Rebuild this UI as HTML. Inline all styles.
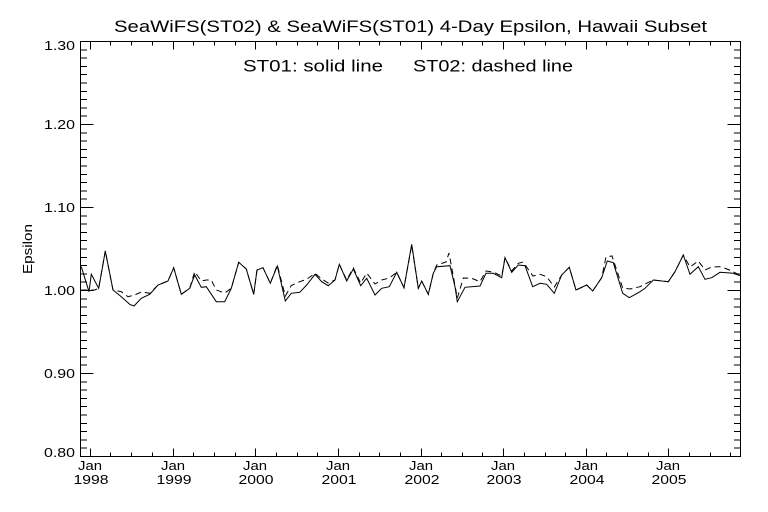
<!DOCTYPE html>
<html>
<head>
<meta charset="utf-8">
<style>
html,body{margin:0;padding:0;background:#fff;}
svg{display:block;}
text{font-family:"Liberation Sans",sans-serif;fill:#000;}
</style>
</head>
<body>
<svg width="768" height="512" viewBox="0 0 768 512" xmlns="http://www.w3.org/2000/svg">
<rect x="0" y="0" width="768" height="512" fill="#fff"/>

<text x="114" y="32" font-size="16.5" textLength="593" lengthAdjust="spacingAndGlyphs">SeaWiFS(ST02) &amp; SeaWiFS(ST01) 4-Day Epsilon, Hawaii Subset</text>

<text x="243" y="71.5" font-size="16.5" textLength="140" lengthAdjust="spacingAndGlyphs">ST01: solid line</text>
<text x="413" y="71.5" font-size="16.5" textLength="160" lengthAdjust="spacingAndGlyphs">ST02: dashed line</text>

<g stroke="#000" stroke-width="1" fill="none" shape-rendering="crispEdges">
<rect x="80.5" y="41.5" width="660" height="415"/>
<path d="M90.5 456.5V448.5 M90.5 41.5V49.5 M110.5 456.5V452.5 M110.5 41.5V45.5 M131.5 456.5V452.5 M131.5 41.5V45.5 M152.5 456.5V452.5 M152.5 41.5V45.5 M173.5 456.5V448.5 M173.5 41.5V49.5 M193.5 456.5V452.5 M193.5 41.5V45.5 M214.5 456.5V452.5 M214.5 41.5V45.5 M235.5 456.5V452.5 M235.5 41.5V45.5 M255.5 456.5V448.5 M255.5 41.5V49.5 M276.5 456.5V452.5 M276.5 41.5V45.5 M297.5 456.5V452.5 M297.5 41.5V45.5 M317.5 456.5V452.5 M317.5 41.5V45.5 M338.5 456.5V448.5 M338.5 41.5V49.5 M359.5 456.5V452.5 M359.5 41.5V45.5 M379.5 456.5V452.5 M379.5 41.5V45.5 M400.5 456.5V452.5 M400.5 41.5V45.5 M421.5 456.5V448.5 M421.5 41.5V49.5 M441.5 456.5V452.5 M441.5 41.5V45.5 M462.5 456.5V452.5 M462.5 41.5V45.5 M482.5 456.5V452.5 M482.5 41.5V45.5 M503.5 456.5V448.5 M503.5 41.5V49.5 M524.5 456.5V452.5 M524.5 41.5V45.5 M545.5 456.5V452.5 M545.5 41.5V45.5 M565.5 456.5V452.5 M565.5 41.5V45.5 M586.5 456.5V448.5 M586.5 41.5V49.5 M606.5 456.5V452.5 M606.5 41.5V45.5 M627.5 456.5V452.5 M627.5 41.5V45.5 M648.5 456.5V452.5 M648.5 41.5V45.5 M668.5 456.5V448.5 M668.5 41.5V49.5 M689.5 456.5V452.5 M689.5 41.5V45.5 M710.5 456.5V452.5 M710.5 41.5V45.5 M730.5 456.5V452.5 M730.5 41.5V45.5"/>
<path d="M80.5 373.5H93.5 M740.5 373.5H727.5 M80.5 290.5H93.5 M740.5 290.5H727.5 M80.5 207.5H93.5 M740.5 207.5H727.5 M80.5 124.5H93.5 M740.5 124.5H727.5
M80.5 448.2H87 M740.5 448.2H734 M80.5 439.9H87 M740.5 439.9H734 M80.5 431.6H87 M740.5 431.6H734 M80.5 423.3H87 M740.5 423.3H734 M80.5 415.0H87 M740.5 415.0H734 M80.5 406.7H87 M740.5 406.7H734 M80.5 398.4H87 M740.5 398.4H734 M80.5 390.1H87 M740.5 390.1H734 M80.5 381.8H87 M740.5 381.8H734
M80.5 365.2H87 M740.5 365.2H734 M80.5 356.9H87 M740.5 356.9H734 M80.5 348.6H87 M740.5 348.6H734 M80.5 340.3H87 M740.5 340.3H734 M80.5 332.0H87 M740.5 332.0H734 M80.5 323.7H87 M740.5 323.7H734 M80.5 315.4H87 M740.5 315.4H734 M80.5 307.1H87 M740.5 307.1H734 M80.5 298.8H87 M740.5 298.8H734
M80.5 282.2H87 M740.5 282.2H734 M80.5 273.9H87 M740.5 273.9H734 M80.5 265.6H87 M740.5 265.6H734 M80.5 257.3H87 M740.5 257.3H734 M80.5 249.0H87 M740.5 249.0H734 M80.5 240.7H87 M740.5 240.7H734 M80.5 232.4H87 M740.5 232.4H734 M80.5 224.1H87 M740.5 224.1H734 M80.5 215.8H87 M740.5 215.8H734
M80.5 199.2H87 M740.5 199.2H734 M80.5 190.9H87 M740.5 190.9H734 M80.5 182.6H87 M740.5 182.6H734 M80.5 174.3H87 M740.5 174.3H734 M80.5 166.0H87 M740.5 166.0H734 M80.5 157.7H87 M740.5 157.7H734 M80.5 149.4H87 M740.5 149.4H734 M80.5 141.1H87 M740.5 141.1H734 M80.5 132.8H87 M740.5 132.8H734
M80.5 116.2H87 M740.5 116.2H734 M80.5 107.9H87 M740.5 107.9H734 M80.5 99.6H87 M740.5 99.6H734 M80.5 91.3H87 M740.5 91.3H734 M80.5 83.0H87 M740.5 83.0H734 M80.5 74.7H87 M740.5 74.7H734 M80.5 66.4H87 M740.5 66.4H734 M80.5 58.1H87 M740.5 58.1H734 M80.5 49.8H87 M740.5 49.8H734"/>
</g>

<g font-size="12.5" text-anchor="end">
<text x="75" y="50" textLength="31" lengthAdjust="spacingAndGlyphs">1.30</text>
<text x="75" y="129" textLength="31" lengthAdjust="spacingAndGlyphs">1.20</text>
<text x="75" y="212" textLength="31" lengthAdjust="spacingAndGlyphs">1.10</text>
<text x="75" y="295" textLength="31" lengthAdjust="spacingAndGlyphs">1.00</text>
<text x="75" y="378" textLength="31" lengthAdjust="spacingAndGlyphs">0.90</text>
<text x="75" y="457" textLength="31" lengthAdjust="spacingAndGlyphs">0.80</text>
</g>

<text transform="translate(32,249) rotate(-90)" x="0" y="0" font-size="13" text-anchor="middle" textLength="50" lengthAdjust="spacingAndGlyphs">Epsilon</text>

<g font-size="12.5" text-anchor="middle">
<text x="90" y="470" textLength="24" lengthAdjust="spacingAndGlyphs">Jan</text>
<text x="91" y="484" textLength="35" lengthAdjust="spacingAndGlyphs">1998</text>
<text x="173" y="470" textLength="24" lengthAdjust="spacingAndGlyphs">Jan</text>
<text x="174" y="484" textLength="35" lengthAdjust="spacingAndGlyphs">1999</text>
<text x="255" y="470" textLength="24" lengthAdjust="spacingAndGlyphs">Jan</text>
<text x="256" y="484" textLength="35" lengthAdjust="spacingAndGlyphs">2000</text>
<text x="338" y="470" textLength="24" lengthAdjust="spacingAndGlyphs">Jan</text>
<text x="339" y="484" textLength="35" lengthAdjust="spacingAndGlyphs">2001</text>
<text x="421" y="470" textLength="24" lengthAdjust="spacingAndGlyphs">Jan</text>
<text x="422" y="484" textLength="35" lengthAdjust="spacingAndGlyphs">2002</text>
<text x="503" y="470" textLength="24" lengthAdjust="spacingAndGlyphs">Jan</text>
<text x="504" y="484" textLength="35" lengthAdjust="spacingAndGlyphs">2003</text>
<text x="586" y="470" textLength="24" lengthAdjust="spacingAndGlyphs">Jan</text>
<text x="587" y="484" textLength="35" lengthAdjust="spacingAndGlyphs">2004</text>
<text x="668" y="470" textLength="24" lengthAdjust="spacingAndGlyphs">Jan</text>
<text x="669" y="484" textLength="35" lengthAdjust="spacingAndGlyphs">2005</text>
</g>

<polyline fill="none" stroke="#000" stroke-width="1" stroke-dasharray="6 4" points="81.3,290 89,290 94.7,290 98.7,288.3 105.3,251 113,290 121.3,291.7 128,296.7 134.7,295 141.3,292 149.7,293.3 158,285 168,281 173.7,267.7 181.3,294.3 189.7,288.3 194.7,271.7 201.3,281 206.3,280 211.3,280 216.3,290 224.7,293 231.3,288.3 238.7,262.3 246.3,269 253.7,294.3 257,270 263,267.7 270.3,283.3 277.3,265 285.3,296 291.3,285.5 299.7,281.7 306.7,279.3 315,273.3 321.7,279 328.3,283 335,280 339.3,264.3 346.7,280 353.3,268 360.7,283 366.7,273 375,284 381.7,280 389.3,278 396.7,272.3 404,287.7 411.7,245 418.3,288.3 421.7,281 428.3,294.3 433.3,273.3 436.7,265 446,262 449,253 457.3,298 463.3,278 471.7,278.3 480,281.7 486,271 493.3,272 501.7,276 505,257.7 511.7,271 518.3,263.3 523.3,262 530,272 533,276 540,274.3 546.7,276.7 554.3,287 561.7,275 569.3,267.3 576,290 586.7,285 592.7,291 601.7,277.7 606,257 612,256 622.7,288 630,289 640,286.7 645,284 653.3,280 668.3,281.7 675,271.7 683.3,255 690,267 698.3,261 705,270 711.7,267 720,266.7 727,269 733.3,271.7 740,275.5"/>

<polyline fill="none" stroke="#000" stroke-width="1" points="81.3,266.7 89,291.7 91.3,274.3 98.7,288.3 105.3,251 113,290 121.3,296.7 129.7,304.3 134,306 141.3,298.3 149.7,294.3 158,285 168,281 173.7,267.7 181.3,294.3 189.7,288.3 194.7,275 201.3,287.3 206.3,286.7 216.3,301.7 224.7,301.7 231.3,288.3 238.7,262.3 246.3,269 253.7,294.3 257,270 263,267.7 270.3,283.3 277.3,266 285.3,301 291.3,293.3 299.7,292.3 306.7,285 315,274.3 321.7,281.7 328.3,285.7 335,280 339.3,264.3 346.7,281 353.3,269 360.7,285.7 366.7,278.3 375,295 381.7,288.3 389.3,286.7 396.7,272.3 404,287.7 411.7,244.3 418.3,288.3 421.7,281 428.3,294.3 433.3,273.3 436.7,266.7 450,265.7 455,286.7 457.3,301.7 465,287.3 480,286 486,273.3 493.3,273.3 501.7,277.7 505,257.7 511.7,272.3 518.3,265 525,265.7 532.7,286.7 540,283.3 546.7,284.3 554.3,293.3 561.7,275 569.3,267.3 576,290 586.7,285 592.7,291 601.7,277.7 607.3,261 613.3,262.7 622.7,293.3 629.3,297.7 640,291.7 645,288.3 653.3,280 668.3,281.7 675,271.7 683.3,255 690,274.3 698.3,266.7 705,279.3 711.7,277.7 720,272.3 733.3,273.3 740,275.7"/>
</svg>
</body>
</html>
